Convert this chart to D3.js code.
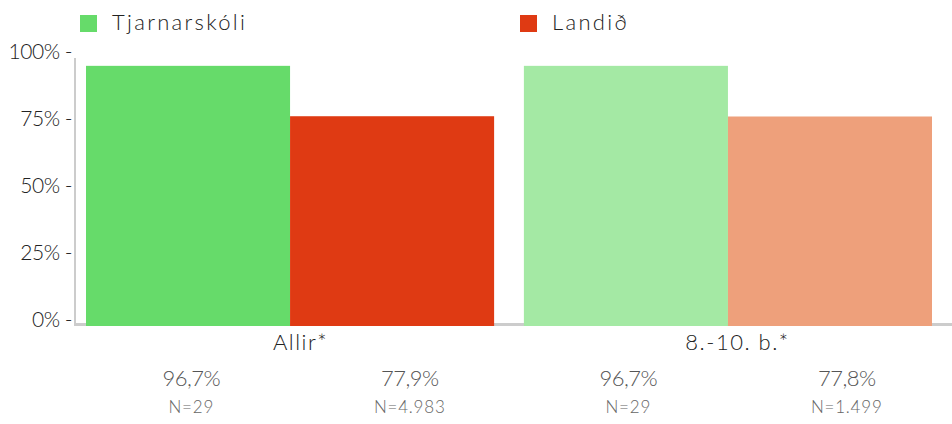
<!DOCTYPE html>
<html>
<head>
<meta charset="utf-8">
<script src="https://cdn.jsdelivr.net/npm/d3@7"></script>
<style>
  body { margin: 0; background: #fff; }
  svg text { font-family: Lato, "Open Sans", sans-serif; font-weight: 300; }
</style>
</head>
<body>
<div id="chart"></div>
<script>
// Data
const groups = ["Allir*", "8.-10. b.*"];
const seriesNames = ["Tjarnarskóli", "Landið"];
const schoolValues = [96.7, 96.7];
const countryValues = [77.9, 77.8];
const schoolN = ["29", "29"];
const countryN = ["4.983", "1.499"];
const yTicks = [0, 25, 50, 75, 100];

// colours: group 1 strong, group 2 pale
const colors = [
    ["#66db6a", "#df3a13"],
    ["#a4e9a4", "#eea07b"]
];

const width = 952, height = 424;

const svg = d3.select("#chart")
    .append("svg")
    .attr("width", width)
    .attr("height", height);

// Scales
const x0 = d3.scaleBand().domain(groups).range([86, 932]).paddingInner(0.068);
const x1 = d3.scaleBand().domain(seriesNames).range([0, x0.bandwidth()]);
const y = d3.scaleLinear().domain([0, 100]).range([325, 57]);

// label table columns (four equal columns under the bars)
const cols = d3.range(groups.length * seriesNames.length);
const xl = d3.scaleBand().domain(cols).range([82, 956]);

// Baseline and y axis line
svg.append("line")
    .attr("x1", 74).attr("x2", width)
    .attr("y1", y(0) - 0.5).attr("y2", y(0) - 0.5)
    .attr("stroke", "#cccccc").attr("stroke-width", 3);

svg.append("line")
    .attr("x1", 75).attr("x2", 75)
    .attr("y1", y(100) + 1).attr("y2", y(0))
    .attr("stroke", "#cccccc").attr("stroke-width", 2);

// Y axis tick labels
const yAxis = svg.append("g")
    .attr("transform", "translate(74,0)")
    .call(d3.axisLeft(y).tickValues(yTicks).tickSize(0).tickPadding(2)
        .tickFormat(d => d + "% -"));
yAxis.select(".domain").remove();
yAxis.selectAll("text")
    .attr("dy", "0.32em")
    .attr("y", -5)
    .style("font-size", "21px")
    .style("letter-spacing", "-0.5px")
    .attr("fill", "#222");

// Bars
const rows = groups.map((g, i) => ({
    group: g,
    i: i,
    values: [
        { key: seriesNames[0], value: schoolValues[i], n: schoolN[i], color: colors[i][0] },
        { key: seriesNames[1], value: countryValues[i], n: countryN[i], color: colors[i][1] }
    ]
}));

const gGroups = svg.selectAll(".group")
    .data(rows)
    .enter()
    .append("g")
    .attr("class", "group")
    .attr("transform", d => `translate(${x0(d.group)},0)`);

gGroups.selectAll("rect")
    .data(d => d.values)
    .enter()
    .append("rect")
    .attr("x", d => x1(d.key))
    .attr("y", d => y(d.value))
    .attr("width", x1.bandwidth())
    .attr("height", d => y(0) - y(d.value) + 1)
    .attr("fill", d => d.color);

// Category labels, centred over their pair of value columns
svg.selectAll(".cat-label")
    .data(rows)
    .enter()
    .append("text")
    .attr("class", "cat-label")
    .attr("x", d => (xl(d.i * 2) + xl(d.i * 2 + 1) + xl.bandwidth()) / 2)
    .attr("y", 350)
    .attr("text-anchor", "middle")
    .style("font-size", "22px")
    .style("letter-spacing", "1.5px")
    .attr("fill", "#222")
    .text(d => d.group);

// Value labels
const labelData = rows.flatMap(d => d.values.map((v, j) => ({ col: d.i * 2 + j, value: v.value, n: v.n })));

svg.selectAll(".pct-label")
    .data(labelData)
    .enter()
    .append("text")
    .attr("class", "pct-label")
    .attr("x", d => xl(d.col) + xl.bandwidth() / 2)
    .attr("y", 386)
    .attr("text-anchor", "middle")
    .style("font-size", "22px")
    .style("letter-spacing", "-0.5px")
    .attr("fill", "#555")
    .text(d => d3.format(".1f")(d.value).replace(".", ",") + "%");

svg.selectAll(".n-label")
    .data(labelData)
    .enter()
    .append("text")
    .attr("class", "n-label")
    .attr("x", d => xl(d.col) + xl.bandwidth() / 2)
    .attr("y", 413)
    .attr("text-anchor", "middle")
    .style("font-size", "17px")
    .style("letter-spacing", "0.8px")
    .attr("fill", "#666")
    .text(d => "N=" + d.n);

// Legend
const legend = svg.selectAll(".legend")
    .data(seriesNames)
    .enter()
    .append("g")
    .attr("class", "legend")
    .attr("transform", (d, i) => `translate(${80 + i * 440},15)`);

legend.append("rect")
    .attr("width", 17)
    .attr("height", 17)
    .attr("fill", (d, i) => colors[0][i]);

legend.append("text")
    .attr("x", 32)
    .attr("y", 15)
    .style("font-size", "22px")
    .style("letter-spacing", "2.3px")
    .attr("fill", "#222")
    .text(d => d);
</script>
</body>
</html>
